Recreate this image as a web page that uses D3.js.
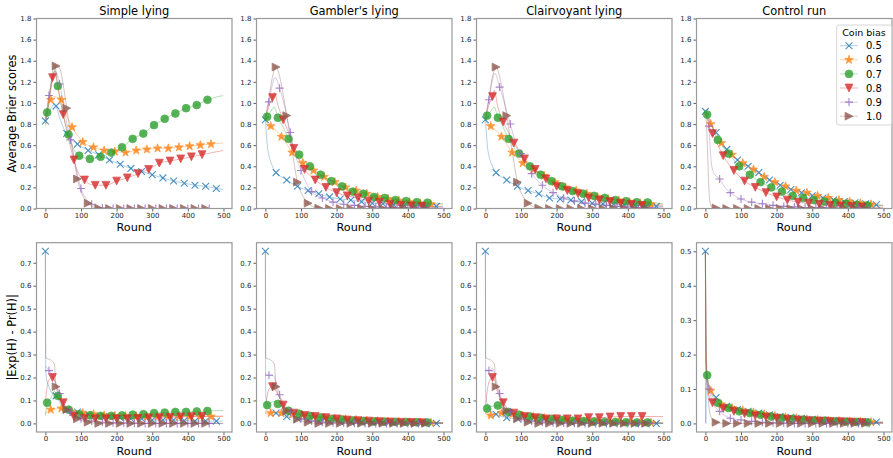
<!DOCTYPE html>
<html>
<head>
<meta charset="utf-8">
<script src="https://cdn.jsdelivr.net/npm/d3@7"></script>
<style>
  body { margin: 0; background: #fff; }
  svg { display: block; font-family: "DejaVu Sans", sans-serif; }
</style>
</head>
<body>
<svg id="chart" width="893" height="458"></svg>
<script>
// ---- series definitions ----
const biasLabels = ["0.5", "0.6", "0.7", "0.8", "0.9", "1.0"];
const seriesColors = ["#1f77b4", "#ff7f0e", "#2ca02c", "#d62728", "#9467bd", "#8c564b"];
const markerShapes = ["x", "star", "circle", "tridown", "plus", "triright"];
// markers are placed every 30 rounds, each series with its own offset
const markerStart = [0, 15, 5, 20, 10, 30];
const markerEnd = [480, 465, 455, 440, 460, 450];
const markerStep = 30;

const panelTitles = ["Simple lying", "Gambler's lying", "Clairvoyant lying", "Control run"];
const roundTicks = [0, 100, 200, 300, 400, 500];
const brierTicks = [0, 0.2, 0.4, 0.6, 0.8, 1.0, 1.2, 1.4, 1.6, 1.8];
const diffTicks = [0, 0.1, 0.2, 0.3, 0.4, 0.5, 0.6, 0.7];
const controlDiffTicks = [0, 0.1, 0.2, 0.3, 0.4, 0.5];

// ---- average Brier scores: [round, value] per coin bias ----
const simpleBrier = [
  [[0,.83],[8,.90],[18,.96],[25,.99],[30,.97],[40,.86],[50,.77],[60,.71],[75,.65],[90,.61],[120,.55],[150,.51],[180,.46],[210,.42],[240,.38],[270,.35],[300,.32],[330,.29],[360,.26],[390,.24],[420,.22],[450,.21],[480,.19],[499,.18]],
  [[0,.78],[5,.88],[10,.97],[15,1.03],[25,1.06],[35,1.05],[45,1.03],[55,.93],[65,.84],[75,.77],[90,.69],[105,.63],[135,.58],[165,.55],[195,.54],[225,.53],[255,.55],[285,.56],[315,.57],[345,.57],[375,.58],[405,.59],[435,.60],[465,.61],[499,.62]],
  [[0,.86],[5,.91],[15,1.15],[25,1.37],[35,1.16],[45,.97],[55,.82],[65,.70],[80,.56],[95,.50],[110,.48],[125,.47],[155,.49],[185,.53],[215,.58],[245,.66],[275,.71],[305,.79],[335,.85],[365,.90],[395,.95],[425,.98],[455,1.03],[499,1.07]],
  [[0,.85],[10,1.05],[20,1.24],[27,1.30],[35,1.15],[50,.89],[65,.66],[80,.46],[95,.32],[110,.27],[125,.23],[140,.22],[170,.22],[200,.26],[230,.29],[260,.33],[290,.37],[320,.43],[350,.45],[380,.47],[410,.49],[440,.51],[499,.55]],
  [[0,.85],[10,1.07],[20,1.25],[28,1.30],[40,1.18],[55,.90],[70,.65],[85,.40],[100,.19],[115,.09],[130,.04],[145,.015],[160,.005],[190,0],[220,0],[250,0],[280,0],[310,0],[340,0],[370,0],[400,0],[430,0],[460,0],[499,0]],
  [[0,.80],[10,1.0],[20,1.22],[30,1.35],[40,1.33],[50,1.17],[60,.95],[75,.60],[90,.28],[105,.12],[120,.05],[135,.015],[150,.003],[180,0],[210,0],[240,0],[270,0],[300,0],[330,0],[360,0],[390,0],[420,0],[450,0],[499,0]]
];
const gamblerBrier = [
  [[0,.84],[3,.70],[6,.58],[10,.50],[15,.44],[20,.40],[25,.36],[30,.34],[60,.27],[90,.21],[120,.17],[150,.14],[180,.11],[210,.09],[240,.08],[270,.065],[300,.05],[330,.045],[360,.035],[390,.03],[420,.025],[450,.02],[480,.02],[499,.015]],
  [[0,.85],[5,.81],[15,.78],[30,.74],[45,.68],[60,.61],[75,.53],[90,.48],[105,.43],[135,.36],[165,.30],[195,.25],[225,.20],[255,.17],[285,.14],[315,.11],[345,.09],[375,.075],[405,.06],[435,.05],[465,.04],[499,.035]],
  [[0,.85],[5,.87],[15,.92],[25,.96],[35,.86],[50,.77],[65,.66],[80,.58],[95,.51],[125,.40],[155,.32],[185,.26],[215,.21],[245,.16],[275,.14],[305,.11],[335,.10],[365,.08],[395,.07],[425,.06],[455,.055],[499,.045]],
  [[0,.85],[10,.97],[20,1.05],[25,1.10],[35,.98],[50,.84],[65,.72],[80,.57],[95,.46],[110,.37],[140,.27],[170,.20],[200,.15],[230,.12],[260,.10],[290,.07],[320,.06],[350,.04],[380,.03],[410,.025],[440,.02],[499,.015]],
  [[0,.85],[10,1.01],[20,1.18],[27,1.24],[40,1.14],[55,.95],[70,.72],[85,.50],[100,.36],[115,.24],[130,.16],[160,.10],[190,.06],[220,.04],[250,.03],[280,.02],[310,.015],[340,.01],[370,.008],[400,.006],[430,.005],[460,.004],[499,.003]],
  [[0,.85],[10,1.05],[20,1.25],[30,1.34],[40,1.25],[50,1.08],[60,.88],[75,.55],[90,.25],[105,.12],[120,.05],[135,.015],[150,.004],[180,0],[210,0],[240,0],[270,0],[300,0],[330,0],[360,0],[390,0],[420,0],[450,0],[499,0]]
];
const clairvoyantBrier = [
  [[0,.84],[3,.70],[6,.58],[10,.50],[15,.44],[20,.40],[25,.36],[30,.34],[60,.27],[90,.21],[120,.17],[150,.14],[180,.10],[210,.09],[240,.08],[270,.065],[300,.05],[330,.045],[360,.04],[390,.035],[420,.03],[450,.025],[480,.02],[499,.02]],
  [[0,.85],[5,.81],[15,.78],[30,.74],[45,.68],[60,.61],[75,.53],[90,.48],[105,.43],[135,.37],[165,.31],[195,.25],[225,.20],[255,.17],[285,.14],[315,.11],[345,.09],[375,.075],[405,.06],[435,.05],[465,.04],[499,.035]],
  [[0,.85],[5,.88],[15,.92],[25,.96],[35,.86],[50,.77],[65,.66],[80,.58],[95,.52],[125,.40],[155,.32],[185,.26],[215,.21],[245,.165],[275,.14],[305,.12],[335,.10],[365,.08],[395,.07],[425,.06],[455,.057],[499,.045]],
  [[0,.85],[10,.98],[20,1.06],[25,1.12],[35,.96],[50,.82],[65,.72],[80,.62],[95,.54],[110,.47],[140,.37],[170,.28],[200,.21],[230,.17],[260,.14],[290,.10],[320,.08],[350,.065],[380,.05],[410,.04],[440,.03],[499,.025]],
  [[0,.85],[10,1.03],[20,1.22],[27,1.28],[40,1.15],[55,.98],[70,.80],[85,.62],[100,.52],[130,.33],[160,.22],[190,.15],[220,.10],[250,.07],[280,.05],[310,.04],[340,.03],[370,.02],[400,.015],[430,.01],[460,.01],[499,.008]],
  [[0,.85],[10,1.05],[20,1.25],[30,1.34],[40,1.25],[50,1.08],[60,.88],[75,.55],[90,.25],[105,.12],[120,.05],[135,.015],[150,.004],[180,0],[210,0],[240,0],[270,0],[300,0],[330,0],[360,0],[390,0],[420,0],[450,0],[499,0]]
];
const controlBrier = [
  [[0,.92],[10,.84],[20,.77],[30,.72],[45,.64],[60,.56],[90,.46],[120,.40],[150,.34],[180,.27],[210,.22],[240,.18],[270,.15],[300,.12],[330,.10],[360,.08],[390,.065],[420,.055],[450,.045],[480,.035],[499,.03]],
  [[0,.90],[5,.86],[15,.80],[30,.70],[45,.62],[75,.51],[105,.43],[135,.37],[165,.30],[195,.25],[225,.21],[255,.17],[285,.15],[315,.12],[345,.10],[375,.08],[405,.065],[435,.05],[465,.04],[499,.03]],
  [[0,.90],[5,.89],[20,.76],[35,.65],[50,.58],[65,.52],[95,.40],[125,.32],[155,.25],[185,.20],[215,.16],[245,.12],[275,.10],[305,.08],[335,.065],[365,.055],[395,.045],[425,.035],[455,.03],[499,.025]],
  [[0,.90],[5,.85],[10,.79],[20,.71],[35,.60],[50,.50],[80,.36],[110,.26],[140,.20],[170,.15],[200,.11],[230,.08],[260,.06],[290,.05],[320,.04],[350,.03],[380,.025],[410,.02],[440,.015],[499,.01]],
  [[0,.90],[5,.87],[10,.78],[13,.60],[17,.42],[25,.33],[40,.28],[55,.20],[70,.15],[100,.09],[130,.06],[160,.045],[190,.03],[220,.02],[250,.015],[280,.01],[310,.008],[340,.006],[370,.004],[400,.003],[430,.002],[460,.002],[499,.001]],
  [[0,.90],[3,.80],[6,.55],[9,.25],[12,.08],[16,.02],[30,.005],[60,0],[90,0],[120,0],[150,0],[180,0],[210,0],[240,0],[270,0],[300,0],[330,0],[360,0],[390,0],[420,0],[450,0],[499,0]]
];

// ---- |Exp(H) - Pr(H)|: [round, value] per coin bias ----
const simpleDiff = [
  [[0,.75],[1,.22],[10,.16],[20,.13],[30,.12],[45,.08],[60,.06],[90,.05],[120,.04],[150,.03],[180,.03],[210,.025],[240,.02],[270,.02],[300,.015],[330,.015],[360,.015],[390,.012],[420,.01],[450,.01],[480,.01],[499,.01]],
  [[0,.04],[5,.05],[15,.06],[30,.063],[45,.065],[60,.055],[75,.05],[105,.045],[135,.04],[165,.035],[195,.033],[225,.032],[255,.031],[285,.03],[315,.03],[345,.03],[375,.03],[405,.03],[435,.03],[465,.03],[499,.03]],
  [[0,.035],[5,.09],[15,.11],[25,.14],[35,.12],[50,.08],[65,.06],[80,.045],[95,.04],[125,.035],[155,.033],[185,.033],[215,.035],[245,.038],[275,.04],[305,.045],[335,.047],[365,.05],[395,.05],[425,.052],[455,.054],[499,.056]],
  [[0,.10],[5,.16],[10,.19],[20,.20],[30,.17],[40,.12],[50,.09],[65,.05],[80,.03],[110,.022],[140,.02],[170,.02],[200,.02],[230,.02],[260,.022],[290,.024],[320,.025],[350,.026],[380,.028],[410,.029],[440,.03],[499,.032]],
  [[0,.25],[5,.24],[10,.23],[20,.21],[30,.17],[40,.13],[55,.08],[70,.05],[85,.03],[100,.02],[130,.01],[160,.005],[190,.003],[220,.002],[250,.001],[280,0],[310,0],[340,0],[370,0],[400,0],[430,0],[460,0],[499,0]],
  [[0,.75],[1,.285],[10,.28],[20,.27],[25,.26],[30,.16],[45,.10],[60,.06],[75,.035],[90,.02],[120,.005],[150,0],[180,0],[210,0],[240,0],[270,0],[300,0],[330,0],[360,0],[390,0],[420,0],[450,0],[499,0]]
];
const gamblerDiff = [
  [[0,.75],[1,.12],[10,.07],[20,.05],[30,.045],[45,.035],[60,.03],[90,.02],[120,.015],[150,.01],[180,.008],[210,.006],[240,.005],[270,.004],[300,.003],[330,.003],[360,.002],[390,.002],[420,.001],[450,.001],[480,0],[499,0]],
  [[0,.04],[15,.045],[30,.047],[45,.045],[75,.04],[105,.035],[135,.03],[165,.025],[195,.02],[225,.018],[255,.015],[285,.012],[315,.01],[345,.008],[375,.006],[405,.005],[435,.004],[465,.003],[499,.003]],
  [[0,.04],[5,.08],[15,.09],[25,.095],[35,.085],[50,.07],[65,.055],[95,.042],[125,.033],[155,.026],[185,.02],[215,.017],[245,.013],[275,.011],[305,.009],[335,.008],[365,.007],[395,.006],[425,.005],[455,.004],[499,.004]],
  [[0,.08],[5,.12],[10,.15],[20,.16],[30,.14],[40,.11],[50,.08],[65,.06],[80,.045],[110,.035],[140,.03],[170,.025],[200,.02],[230,.015],[260,.012],[290,.01],[320,.008],[350,.006],[380,.005],[410,.004],[440,.003],[499,.002]],
  [[0,.22],[10,.21],[20,.21],[30,.18],[40,.125],[55,.08],[70,.05],[85,.03],[100,.02],[130,.01],[160,.005],[190,.003],[220,.002],[250,.001],[280,0],[310,0],[340,0],[370,0],[400,0],[430,0],[460,0],[499,0]],
  [[0,.75],[1,.285],[10,.28],[20,.27],[25,.26],[30,.16],[45,.10],[60,.055],[75,.03],[90,.018],[120,.005],[150,0],[180,0],[210,0],[240,0],[270,0],[300,0],[330,0],[360,0],[390,0],[420,0],[450,0],[499,0]]
];
const clairvoyantDiff = [
  [[0,.75],[1,.12],[10,.065],[20,.045],[30,.04],[45,.03],[60,.025],[90,.02],[120,.015],[150,.01],[180,.008],[210,.006],[240,.005],[270,.004],[300,.003],[330,.003],[360,.002],[390,.002],[420,.001],[450,.001],[480,0],[499,0]],
  [[0,.03],[15,.035],[30,.04],[45,.045],[75,.04],[105,.033],[135,.028],[165,.024],[195,.02],[225,.017],[255,.014],[285,.012],[315,.01],[345,.008],[375,.006],[405,.005],[435,.004],[465,.003],[499,.003]],
  [[0,.04],[5,.065],[20,.075],[35,.078],[50,.065],[65,.05],[95,.038],[125,.03],[155,.025],[185,.02],[215,.015],[245,.012],[275,.01],[305,.008],[335,.007],[365,.006],[395,.005],[425,.004],[455,.004],[499,.003]],
  [[0,.08],[5,.14],[10,.18],[20,.20],[30,.17],[40,.12],[50,.09],[65,.06],[80,.045],[110,.03],[140,.025],[170,.02],[200,.02],[230,.02],[260,.02],[290,.025],[320,.025],[350,.028],[380,.03],[410,.03],[440,.03],[499,.03]],
  [[0,.24],[10,.23],[20,.24],[30,.19],[40,.13],[55,.08],[70,.05],[85,.03],[100,.02],[130,.01],[160,.005],[190,.003],[220,.002],[250,.001],[280,0],[310,0],[340,0],[370,0],[400,0],[430,0],[460,0],[499,0]],
  [[0,.75],[1,.285],[10,.28],[20,.27],[25,.26],[30,.16],[45,.10],[60,.055],[75,.03],[90,.02],[120,.005],[150,0],[180,0],[210,0],[240,0],[270,0],[300,0],[330,0],[360,0],[390,0],[420,0],[450,0],[499,0]]
];
const controlDiff = [
  [[0,.5],[1,0],[3,.14],[10,.11],[20,.09],[30,.075],[60,.05],[90,.04],[120,.035],[150,.03],[180,.025],[210,.02],[240,.018],[270,.015],[300,.012],[330,.01],[360,.008],[390,.007],[420,.006],[450,.005],[480,.004],[499,.004]],
  [[0,.5],[2,.2],[5,.14],[15,.095],[30,.07],[45,.055],[75,.045],[105,.038],[135,.032],[165,.027],[195,.022],[225,.018],[255,.015],[285,.012],[315,.01],[345,.008],[375,.007],[405,.006],[435,.005],[465,.004],[499,.003]],
  [[0,.5],[2,.2],[5,.14],[15,.09],[35,.06],[65,.045],[95,.035],[125,.03],[155,.025],[185,.02],[215,.016],[245,.013],[275,.011],[305,.009],[335,.008],[365,.006],[395,.005],[425,.004],[455,.003],[499,.003]],
  [[0,.5],[2,.18],[5,.12],[10,.08],[20,.06],[35,.05],[50,.043],[80,.035],[110,.028],[140,.022],[170,.018],[200,.015],[230,.012],[260,.01],[290,.008],[320,.007],[350,.006],[380,.005],[410,.004],[440,.003],[499,.002]],
  [[0,.5],[2,.17],[5,.12],[10,.10],[20,.06],[40,.035],[70,.015],[100,.01],[130,.006],[160,.003],[190,.002],[220,.001],[250,0],[280,0],[310,0],[340,0],[370,0],[400,0],[430,0],[460,0],[499,0]],
  [[0,.5],[4,.14],[8,.07],[15,.02],[25,.005],[30,.003],[60,0],[90,0],[120,0],[150,0],[180,0],[210,0],[240,0],[270,0],[300,0],[330,0],[360,0],[390,0],[420,0],[450,0],[499,0]]
];

// ---- layout ----
const svg = d3.select("#chart");
const colLeft = [36.5, 256.5, 476.5, 696.5];
const colWidth = 195.5;
const rowTop = [18.5, 242.7];
const rowBottom = [208.5, 432];

const panels = [
  { row: 0, col: 0, data: simpleBrier,      domain: [0, 1.8],            ticks: brierTicks },
  { row: 0, col: 1, data: gamblerBrier,     domain: [0, 1.8],            ticks: brierTicks },
  { row: 0, col: 2, data: clairvoyantBrier, domain: [0, 1.8],            ticks: brierTicks },
  { row: 0, col: 3, data: controlBrier,     domain: [0, 1.8],            ticks: brierTicks, legend: true },
  { row: 1, col: 0, data: simpleDiff,       domain: [-0.0375, 0.7875],   ticks: diffTicks },
  { row: 1, col: 1, data: gamblerDiff,      domain: [-0.0375, 0.7875],   ticks: diffTicks },
  { row: 1, col: 2, data: clairvoyantDiff,  domain: [-0.0375, 0.7875],   ticks: diffTicks },
  { row: 1, col: 3, data: controlDiff,      domain: [-0.025, 0.525],     ticks: controlDiffTicks }
];

// marker drawing (matplotlib-like shapes)
function markerPath(shape) {
  switch (shape) {
    case "x": { const r = 3.4; return `M${-r},${-r}L${r},${r}M${-r},${r}L${r},${-r}`; }
    case "plus": { const r = 4.0; return `M${-r},0L${r},0M0,${-r}L0,${r}`; }
    case "circle": return d3.symbol(d3.symbolCircle, Math.PI * 3.9 * 3.9)();
    case "tridown": { const r = 3.9; return `M0,${r}L${-r},${-r}L${r},${-r}Z`; }
    case "triright": { const r = 3.9; return `M${r},0L${-r},${-r}L${-r},${r}Z`; }
    case "star": {
      const R = 4.5, ri = R * 0.382; let p = "";
      for (let i = 0; i < 10; i++) {
        const a = -Math.PI / 2 + i * Math.PI / 5, rr = i % 2 ? ri : R;
        p += (i ? "L" : "M") + (rr * Math.cos(a)).toFixed(2) + "," + (rr * Math.sin(a)).toFixed(2);
      }
      return p + "Z";
    }
  }
}
const strokeOnly = s => s === "x" || s === "plus";

function styleMarker(sel, i) {
  const shape = markerShapes[i], c = seriesColors[i];
  sel.attr("d", markerPath(shape))
    .attr("fill", strokeOnly(shape) ? "none" : c)
    .attr("stroke", c)
    .attr("stroke-width", strokeOnly(shape) ? 1.1 : 0.8)
    .attr("opacity", 0.8);
}

panels.forEach((p, pi) => {
  const x0 = colLeft[p.col], y0 = rowTop[p.row], y1 = rowBottom[p.row];
  const x = d3.scaleLinear().domain([-24.95, 523.95]).range([x0, x0 + colWidth]);
  const y = d3.scaleLinear().domain(p.domain).range([y1, y0]);
  const g = svg.append("g");

  const clipId = "clip" + pi;
  svg.append("clipPath").attr("id", clipId)
    .append("rect").attr("x", x0).attr("y", y0).attr("width", colWidth).attr("height", y1 - y0);

  const plot = g.append("g").attr("clip-path", `url(#${clipId})`);
  const line = d3.line().x(d => x(d[0])).y(d => y(d[1])).curve(d3.curveMonotoneX);

  p.data.forEach((series, si) => {
    plot.append("path").datum(series)
      .attr("d", line)
      .attr("fill", "none")
      .attr("stroke", seriesColors[si])
      .attr("stroke-width", 1)
      .attr("stroke-opacity", 0.35);
  });
  p.data.forEach((series, si) => {
    const marks = series.filter(d => d[0] >= markerStart[si] && d[0] <= markerEnd[si] &&
      (d[0] - markerStart[si]) % markerStep === 0);
    plot.selectAll(null).data(marks).enter().append("path")
      .attr("transform", d => `translate(${x(d[0])},${y(d[1])})`)
      .call(sel => styleMarker(sel, si));
  });

  // axes
  const xAxis = d3.axisBottom(x).tickValues(roundTicks).tickSize(3).tickPadding(1.5).tickFormat(d3.format("d"));
  const yAxis = d3.axisLeft(y).tickValues(p.ticks).tickSize(3).tickPadding(2).tickFormat(d3.format(".1f"));
  const gx = g.append("g").attr("transform", `translate(0,${y1})`).call(xAxis);
  const gy = g.append("g").attr("transform", `translate(${x0},0)`).call(yAxis);
  [gx, gy].forEach(a => {
    a.select(".domain").remove();
    a.selectAll("line").attr("stroke", "#333").attr("stroke-width", 0.8);
    a.selectAll("text").attr("font-size", 7).attr("fill", "#262626").attr("font-family", "DejaVu Sans");
  });

  // frame
  g.append("rect").attr("x", x0).attr("y", y0).attr("width", colWidth).attr("height", y1 - y0)
    .attr("fill", "none").attr("stroke", "#999").attr("stroke-width", 1.2);

  // x label
  g.append("text").attr("x", x0 + colWidth / 2).attr("y", y1 + 22.5)
    .attr("text-anchor", "middle").attr("font-size", 11.2).attr("fill", "#000").text("Round");

  if (p.row === 0) {
    g.append("text").attr("x", x0 + colWidth / 2).attr("y", y0 - 3.5)
      .attr("text-anchor", "middle").attr("font-size", 11.4).attr("fill", "#000").text(panelTitles[p.col]);
  }
  if (p.col === 0) {
    g.append("text")
      .attr("transform", `translate(16,${(y0 + y1) / 2}) rotate(-90)`)
      .attr("text-anchor", "middle").attr("font-size", 11.4).attr("fill", "#000")
      .text(p.row === 0 ? "Average Brier scores" : "|Exp(H) - Pr(H)|");
  }

  if (p.legend) {
    const lg = g.append("g");
    lg.append("rect").attr("x", 836.7).attr("y", 25).attr("width", 55).attr("height", 100)
      .attr("rx", 2).attr("fill", "#fff").attr("fill-opacity", 0.8)
      .attr("stroke", "#ccc").attr("stroke-width", 0.8);
    lg.append("text").attr("x", 864).attr("y", 36).attr("text-anchor", "middle")
      .attr("font-size", 9.5).attr("fill", "#000").text("Coin bias");
    biasLabels.forEach((lab, i) => {
      const cy = 45.7 + i * 14.1;
      lg.append("line").attr("x1", 840).attr("x2", 858).attr("y1", cy).attr("y2", cy)
        .attr("stroke", seriesColors[i]).attr("stroke-opacity", 0.35).attr("stroke-width", 1);
      lg.append("path").attr("transform", `translate(849,${cy})`).call(sel => styleMarker(sel, i));
      lg.append("text").attr("x", 866).attr("y", cy + 3.6).attr("font-size", 10)
        .attr("fill", "#000").text(lab);
    });
  }
});
</script>
</body>
</html>
